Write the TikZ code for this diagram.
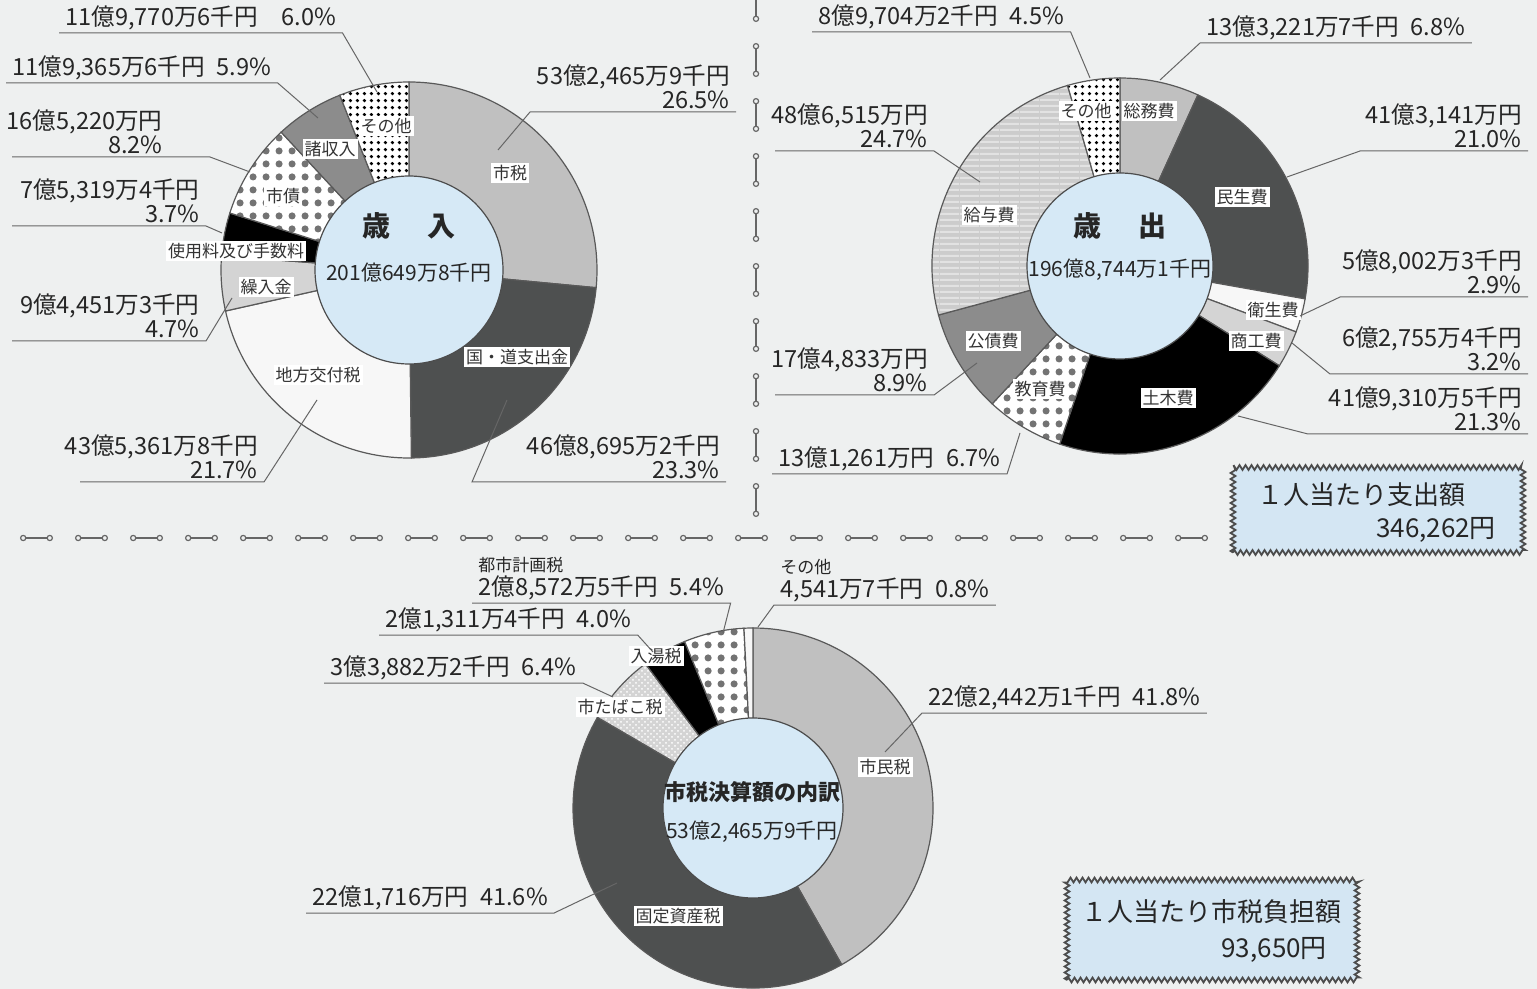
\documentclass[tikz,border=0pt]{standalone}
\usepackage{fontspec}
\setmainfont{Noto Sans CJK JP}
\usetikzlibrary{patterns,arrows.meta,decorations.pathmorphing}

\definecolor{paper}{RGB}{238,240,240}
\definecolor{innerblue}{RGB}{214,233,246}
\definecolor{boxblue}{RGB}{212,230,243}
\definecolor{lightg}{RGB}{192,192,192}
\definecolor{paleg}{RGB}{212,212,212}
\definecolor{midg}{RGB}{140,140,140}
\definecolor{darkg}{RGB}{78,80,80}
\definecolor{stripeg}{RGB}{204,204,204}
\definecolor{stripel}{RGB}{226,226,226}

\pgfdeclarepatternformonly{bigdots}{\pgfqpoint{0pt}{0pt}}{\pgfqpoint{6.5pt}{6.5pt}}{\pgfqpoint{6.5pt}{6.5pt}}{\pgfpathcircle{\pgfqpoint{3.25pt}{3.25pt}}{1.9pt}\pgfusepath{fill}}
\pgfdeclarepatternformonly{smalldots}{\pgfqpoint{0pt}{0pt}}{\pgfqpoint{3.7pt}{3.7pt}}{\pgfqpoint{3.7pt}{3.7pt}}{\pgfpathcircle{\pgfqpoint{1.85pt}{1.85pt}}{0.95pt}\pgfusepath{fill}}
\pgfdeclarepatternformonly{hstripes}{\pgfqpoint{0pt}{0pt}}{\pgfqpoint{10pt}{3pt}}{\pgfqpoint{10pt}{3pt}}{\pgfpathrectangle{\pgfqpoint{0pt}{0pt}}{\pgfqpoint{10pt}{1.3pt}}\pgfusepath{fill}}

\tikzset{
  ring/.style={draw=black!65, line width=0.6pt},
  hub/.style={circle, draw=black!70, line width=0.6pt, fill=innerblue, inner sep=0pt},
  seg/.style={fill=white, inner sep=1pt, text=black!80, font=\fontsize{8.5}{9}\selectfont},
  val/.style={inner xsep=3pt, inner ysep=1.5pt, text=black!85, align=right, font=\fontsize{11.8}{12}\selectfont},
  lead/.style={draw=black!60, line width=0.5pt},
  title/.style={text=black!85, font=\fontsize{14}{14}\selectfont\bfseries},
  total/.style={text=black!85, font=\fontsize{10.5}{10.5}\selectfont},
  boxtxt/.style={text=black!85, font=\fontsize{13}{13}\selectfont},
  sepline/.style={draw=black!60, line width=0.6pt, {Circle[open,length=3.2pt,width=3.2pt]}-{Circle[open,length=3.2pt,width=3.2pt]}},
  statbox/.style={rectangle, fill=boxblue, draw=black!70, line width=0.9pt, decorate, decoration={zigzag, segment length=3pt, amplitude=1.2pt}},
}
\newcommand\smalltxt{\fontsize{8.5}{9}\selectfont}

\begin{document}
\begin{tikzpicture}[x=0.5pt, y=0.5pt, yscale=-1]
    \useasboundingbox (0,0) rectangle (1537,989);
    \fill[paper] (0,0) rectangle (1537,989);

    \foreach \y in {-12,43,...,483}
        \draw[sepline] (756,\y) -- (756,\y+34);
    \foreach \x in {20,75,...,1175}
        \draw[sepline] (\x,538) -- (\x+33,538);

    % 歳入
    \coordinate (c1) at (409,270);
    \filldraw[ring, fill=lightg] (c1) -- ++(-90:188) arc[start angle=-90, end angle=5.4, radius=188] -- cycle;
    \filldraw[ring, fill=darkg] (c1) -- ++(5.4:188) arc[start angle=5.4, end angle=89.28, radius=188] -- cycle;
    \filldraw[ring, fill=white!97!black] (c1) -- ++(89.28:188) arc[start angle=89.28, end angle=167.4, radius=188] -- cycle;
    \filldraw[ring, fill=paleg] (c1) -- ++(167.4:188) arc[start angle=167.4, end angle=184.32, radius=188] -- cycle;
    \filldraw[ring, fill=black] (c1) -- ++(184.32:188) arc[start angle=184.32, end angle=197.64, radius=188] -- cycle;
    \draw[ring, preaction={fill=white}, pattern=bigdots, pattern color=black!55] (c1) -- ++(197.64:188) arc[start angle=197.64, end angle=227.16, radius=188] -- cycle;
    \filldraw[ring, fill=midg] (c1) -- ++(227.16:188) arc[start angle=227.16, end angle=248.4, radius=188] -- cycle;
    \draw[ring, preaction={fill=white}, pattern=smalldots, pattern color=black] (c1) -- ++(248.4:188) arc[start angle=248.4, end angle=270, radius=188] -- cycle;
    \node[hub, minimum size=94pt] (hub1) at (c1) {};
    \node[title] (ttl1) at (409,226) {歳\hspace{1.3em}入};
    \node[total] (tot1) at (409,273) {201億649万8千円};

    % 歳出
    \coordinate (c2) at (1120,266);
    \filldraw[ring, fill=lightg] (c2) -- ++(-90:188) arc[start angle=-90, end angle=-65.52, radius=188] -- cycle;
    \filldraw[ring, fill=darkg] (c2) -- ++(-65.52:188) arc[start angle=-65.52, end angle=10.08, radius=188] -- cycle;
    \filldraw[ring, fill=white!97!black] (c2) -- ++(10.08:188) arc[start angle=10.08, end angle=20.52, radius=188] -- cycle;
    \filldraw[ring, fill=paleg] (c2) -- ++(20.52:188) arc[start angle=20.52, end angle=32.04, radius=188] -- cycle;
    \filldraw[ring, fill=black] (c2) -- ++(32.04:188) arc[start angle=32.04, end angle=108.72, radius=188] -- cycle;
    \draw[ring, preaction={fill=white}, pattern=bigdots, pattern color=black!55] (c2) -- ++(108.72:188) arc[start angle=108.72, end angle=132.84, radius=188] -- cycle;
    \filldraw[ring, fill=midg] (c2) -- ++(132.84:188) arc[start angle=132.84, end angle=164.88, radius=188] -- cycle;
    \draw[ring, preaction={fill=stripeg}, pattern=hstripes, pattern color=stripel] (c2) -- ++(164.88:188) arc[start angle=164.88, end angle=253.8, radius=188] -- cycle;
    \draw[ring, preaction={fill=white}, pattern=smalldots, pattern color=black] (c2) -- ++(253.8:188) arc[start angle=253.8, end angle=270, radius=188] -- cycle;
    \node[hub, minimum size=93pt] (hub2) at (c2) {};
    \node[title] (ttl2) at (1120,226) {歳\hspace{1.3em}出};
    \node[total] (tot2) at (1120,270) {196億8,744万1千円};

    % 市税
    \coordinate (c3) at (753,808);
    \filldraw[ring, fill=lightg] (c3) -- ++(-90:180) arc[start angle=-90, end angle=60.48, radius=180] -- cycle;
    \filldraw[ring, fill=darkg] (c3) -- ++(60.48:180) arc[start angle=60.48, end angle=210.24, radius=180] -- cycle;
    \draw[ring, preaction={fill=paleg}, pattern=crosshatch dots, pattern color=white] (c3) -- ++(210.24:180) arc[start angle=210.24, end angle=233.28, radius=180] -- cycle;
    \filldraw[ring, fill=black] (c3) -- ++(233.28:180) arc[start angle=233.28, end angle=247.68, radius=180] -- cycle;
    \draw[ring, preaction={fill=white}, pattern=bigdots, pattern color=black!55] (c3) -- ++(247.68:180) arc[start angle=247.68, end angle=267.12, radius=180] -- cycle;
    \filldraw[ring, fill=white!97!black] (c3) -- ++(267.12:180) arc[start angle=267.12, end angle=270, radius=180] -- cycle;
    \node[hub, minimum size=90pt] (hub3) at (c3) {};
    \node[title, font=\fontsize{11}{11}\selectfont\bfseries] (ttl3) at (752,792) {市税決算額の内訳};
    \node[total] (tot3) at (752,832) {53億2,465万9千円};

    \node[seg] (s11) at (510,173) {市税};
    \node[seg] (s12) at (517,357) {国・道支出金};
    \node[seg] (s13) at (318,375) {地方交付税};
    \node[seg] (s14) at (266,287) {繰入金};
    \node[seg] (s15) at (236,251) {使用料及び手数料};
    \node[seg] (s16) at (283,196) {市債};
    \node[seg] (s17) at (330,149) {諸収入};
    \node[seg] (s18) at (386,126) {その他};

    \node[seg] (s21) at (1086,111) {その他};
    \node[seg] (s22) at (1149,111) {総務費};
    \node[seg] (s23) at (1242,197) {民生費};
    \node[seg] (s24) at (1273,310) {衛生費};
    \node[seg] (s25) at (1256,341) {商工費};
    \node[seg] (s26) at (1168,398) {土木費};
    \node[seg] (s27) at (1040,389) {教育費};
    \node[seg] (s28) at (993,341) {公債費};
    \node[seg] (s29) at (989,215) {給与費};

    \node[seg] (s31) at (656,656) {入湯税};
    \node[seg] (s32) at (620,707) {市たばこ税};
    \node[seg] (s33) at (885,767) {市民税};
    \node[seg] (s34) at (678,916) {固定資産税};

    % 歳入 labels
    \node[val, anchor=south west] (v1) at (59,33) {11億9,770万6千円\quad 6.0\%};
    \coordinate (t1) at (377,92);
    \draw[lead] (v1.south west) -- (v1.south east) -- (t1);
    \node[val, anchor=south west] (v2) at (6,83) {11億9,365万6千円\enspace 5.9\%};
    \coordinate (t2) at (318,118);
    \draw[lead] (v2.south west) -- (v2.south east) -- (t2);
    \node[val, anchor=south east] (v3) at (169,157) {16億5,220万円\\8.2\%};
    \coordinate (a3) at (12,157);
    \coordinate (b3) at (210,157);
    \coordinate (t3) at (250,172);
    \draw[lead] (a3) -- (v3.south east) -- (b3) -- (t3);
    \node[val, anchor=south east] (v4) at (206,226) {7億5,319万4千円\\3.7\%};
    \coordinate (a4) at (12,226);
    \coordinate (t4) at (222,233);
    \draw[lead] (a4) -- (v4.south east) -- (t4);
    \node[val, anchor=south east] (v5) at (206,341) {9億4,451万3千円\\4.7\%};
    \coordinate (a5) at (12,341);
    \coordinate (t5) at (232,298);
    \draw[lead] (a5) -- (v5.south east) -- (t5);
    \node[val, anchor=south east] (v6) at (264,482) {43億5,361万8千円\\21.7\%};
    \coordinate (a6) at (80,482);
    \coordinate (t6) at (317,400);
    \draw[lead] (a6) -- (v6.south east) -- (t6);
    \node[val, anchor=south east] (v7) at (726,482) {46億8,695万2千円\\23.3\%};
    \coordinate (b7) at (472,482);
    \coordinate (t7) at (507,400);
    \draw[lead] (v7.south east) -- (b7) -- (t7);
    \node[val, anchor=south east] (v8) at (736,112) {53億2,465万9千円\\26.5\%};
    \coordinate (b8) at (530,112);
    \coordinate (t8) at (498,150);
    \draw[lead] (v8.south east) -- (b8) -- (t8);

    % 歳出 labels
    \node[val, anchor=south west] (v9) at (812,32) {8億9,704万2千円\enspace 4.5\%};
    \coordinate (t9) at (1090,78);
    \draw[lead] (v9.south west) -- (v9.south east) -- (t9);
    \node[val, anchor=south west] (v10) at (1200,43) {13億3,221万7千円\enspace 6.8\%};
    \coordinate (t10) at (1160,80);
    \draw[lead] (v10.south east) -- (v10.south west) -- (t10);
    \node[val, anchor=south east] (v11) at (934,151) {48億6,515万円\\24.7\%};
    \coordinate (a11) at (775,151);
    \coordinate (t11) at (980,182);
    \draw[lead] (a11) -- (v11.south east) -- (t11);
    \node[val, anchor=south east] (v12) at (1528,151) {41億3,141万円\\21.0\%};
    \coordinate (b12) at (1360,151);
    \coordinate (t12) at (1287,177);
    \draw[lead] (v12.south east) -- (b12) -- (t12);
    \node[val, anchor=south east] (v13) at (1528,297) {5億8,002万3千円\\2.9\%};
    \coordinate (b13) at (1340,297);
    \coordinate (t13) at (1300,316);
    \draw[lead] (v13.south east) -- (b13) -- (t13);
    \node[val, anchor=south east] (v14) at (1528,374) {6億2,755万4千円\\3.2\%};
    \coordinate (b14) at (1330,374);
    \coordinate (t14) at (1292,343);
    \draw[lead] (v14.south east) -- (b14) -- (t14);
    \node[val, anchor=south east] (v15) at (1528,434) {41億9,310万5千円\\21.3\%};
    \coordinate (b15) at (1308,434);
    \coordinate (t15) at (1238,416);
    \draw[lead] (v15.south east) -- (b15) -- (t15);
    \node[val, anchor=south east] (v16) at (934,395) {17億4,833万円\\8.9\%};
    \coordinate (a16) at (775,395);
    \coordinate (t16) at (977,363);
    \draw[lead] (a16) -- (v16.south east) -- (t16);
    \node[val, anchor=south west] (v17) at (772,474) {13億1,261万円\enspace 6.7\%};
    \coordinate (t17) at (1020,433);
    \draw[lead] (v17.south west) -- (v17.south east) -- (t17);

    % 市税 labels
    \node[val, anchor=south west, align=left] (v18) at (472,603) {{\smalltxt 都市計画税}\\2億8,572万5千円\enspace 5.4\%};
    \coordinate (t18) at (723,633);
    \draw[lead] (v18.south west) -- (v18.south east) -- (t18);
    \node[val, anchor=south west] (v19) at (379,635) {2億1,311万4千円\enspace 4.0\%};
    \coordinate (t19) at (653,652);
    \draw[lead] (v19.south west) -- (v19.south east) -- (t19);
    \node[val, anchor=south west] (v20) at (324,683) {3億3,882万2千円\enspace 6.4\%};
    \coordinate (t20) at (613,697);
    \draw[lead] (v20.south west) -- (v20.south east) -- (t20);
    \node[val, anchor=south west, align=left] (v21) at (774,605) {{\smalltxt その他}\\4,541万7千円\enspace 0.8\%};
    \coordinate (t21) at (758,627);
    \draw[lead] (v21.south east) -- (v21.south west) -- (t21);
    \node[val, anchor=south west] (v22) at (922,713) {22億2,442万1千円\enspace 41.8\%};
    \coordinate (t22) at (885,752);
    \draw[lead] (v22.south east) -- (v22.south west) -- (t22);
    \node[val, anchor=south west] (v23) at (306,913) {22億1,716万円\enspace 41.6\%};
    \coordinate (t23) at (617,883);
    \draw[lead] (v23.south west) -- (v23.south east) -- (t23);

    \node[statbox, minimum width=145pt, minimum height=42.5pt] (box1) at (1378,510) {};
    \node[boxtxt, anchor=west] (box1a) at (1250,495) {１人当たり支出額};
    \node[boxtxt, anchor=east] (box1b) at (1503,530) {346,262円};
    \node[statbox, minimum width=145pt, minimum height=50pt] (box2) at (1212,930) {};
    \node[boxtxt, anchor=west] (box2a) at (1074,912) {１人当たり市税負担額};
    \node[boxtxt, anchor=east] (box2b) at (1334,950) {93,650円};
\end{tikzpicture}
\end{document}
